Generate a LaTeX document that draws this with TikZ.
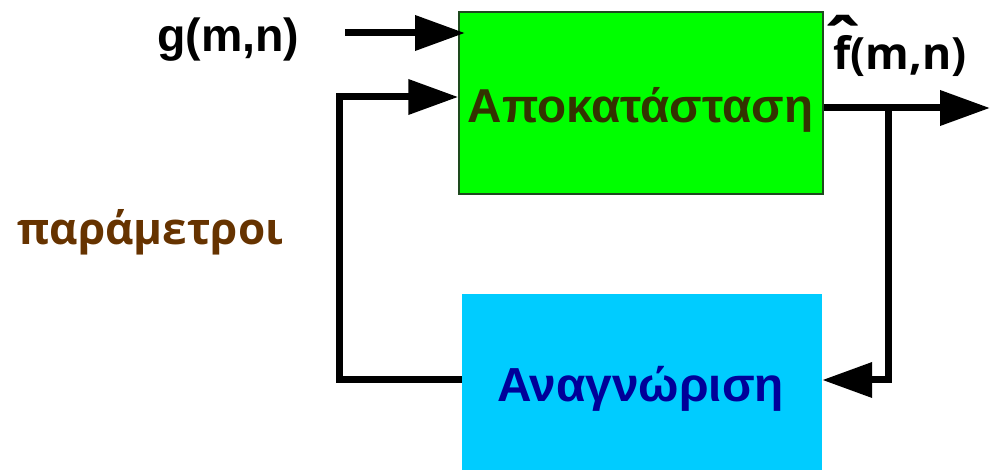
\documentclass[tikz,border=0pt]{standalone}
\usepackage{fontspec}
\setmainfont{Liberation Sans}
\newfontfamily\opfont{Open Sans}
\usetikzlibrary{arrows.meta}
\definecolor{boxgreen}{HTML}{00FF00}
\definecolor{boxedge}{HTML}{1E4A1E}
\definecolor{boxblue}{HTML}{00CCFF}
\definecolor{olivetext}{HTML}{333300}
\definecolor{navytext}{HTML}{000099}
\definecolor{browntext}{HTML}{663300}
\tikzset{
  flow/.style={line width=7pt, line join=miter,
    -{Triangle[length=50pt,width=34pt]}},
  lbl/.style={inner sep=0pt, font=\bfseries},
}
\begin{document}
\begin{tikzpicture}[x=1pt,y=-1pt]
\useasboundingbox (0,0) rectangle (994,470);
% processing blocks
\node[draw=boxedge, line width=1.5pt, fill=boxgreen, minimum width=364pt,
      minimum height=182pt, inner sep=0pt] (rest) at (641,103) {};
\node[fill=boxblue, minimum width=360pt, minimum height=176pt, inner sep=0pt]
  (ident) at (642,382) {};
\node[lbl, anchor=base, text=olivetext,
      font=\fontsize{47.6}{53}\selectfont\bfseries]
  (resttxt) at (640.5,123) {Αποκατάσταση};
\node[lbl, anchor=base, text=navytext,
      font=\fontsize{47.8}{53}\selectfont\bfseries]
  (identtxt) at (640.5,402) {Αναγνώριση};
% signal and parameter labels
\node[lbl, anchor=base west, font=\fontsize{46.5}{50}\selectfont\bfseries]
  (gin) at (157,52) {g(m,n)};
\node[lbl, anchor=base west, font=\opfont\fontsize{44.5}{50}\selectfont\bfseries]
  (fout) at (833,70) {f(m,n)};
% circumflex over the estimate's f
\node[lbl, anchor=south, font=\opfont\fontsize{62}{62}\selectfont\bfseries,
      xscale=1.15, yscale=1.1]
  (fhat) at (843,30) {\smash{\raisebox{-0.56em}{ˆ}}};
\node[lbl, anchor=base west, text=browntext,
      font=\opfont\fontsize{44}{50}\selectfont\bfseries]
  (par) at (17,245) {παράμετροι};
% connector points
\coordinate (gstart) at (345,33);
\coordinate (gend) at (465,33);
\coordinate (outend) at (990,108);
\coordinate (branch) at (888,108);
\coordinate (bdown) at (888,380);
\coordinate (fbin) at (462,380);
\coordinate (fbl) at (339,380);
\coordinate (fbu) at (339,97);
% connectors
\draw[flow] (gstart) -- (gend);
\draw[flow] (rest.east |- outend) -- (outend);
\draw[flow] (branch) -- (bdown) -- (ident.east |- bdown);
\draw[flow] (ident.west |- fbin) -- (fbl) -- (fbu) -- (rest.west |- fbu);
\end{tikzpicture}
\end{document}
